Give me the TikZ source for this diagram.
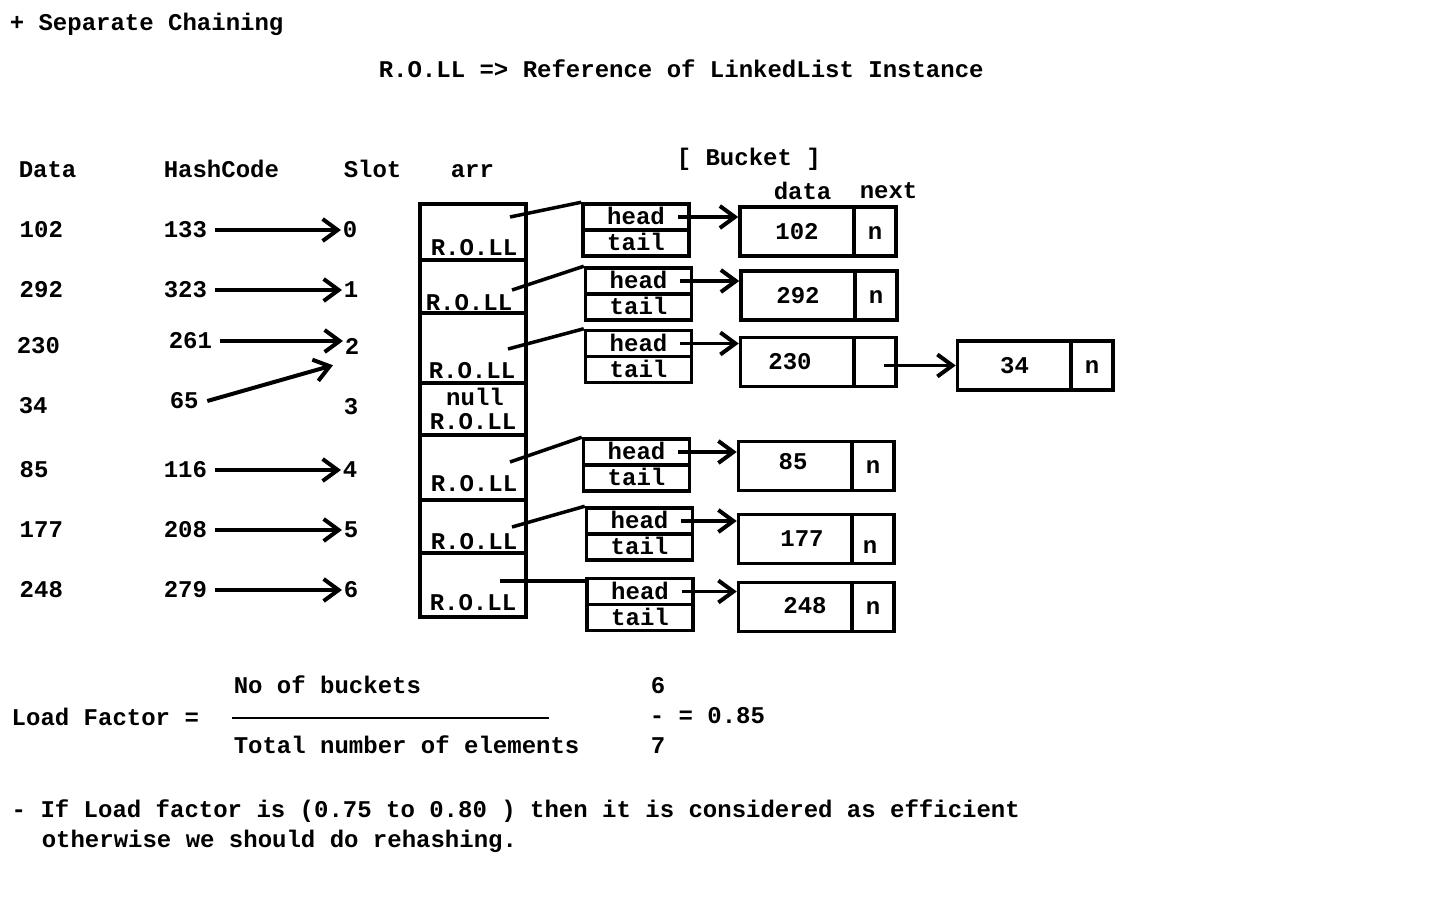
\documentclass[tikz,border=0pt]{standalone}
\usepackage{fontspec}
\setmainfont{Liberation Mono}
\usetikzlibrary{arrows.meta}

\begin{document}
\begin{tikzpicture}[x=1pt, y=-1pt, line width=3.5pt,
	font=\fontsize{24}{28}\selectfont\bfseries,
	>={Straight Barb[length=15pt,width=22pt,line width=4pt]},
	txt/.style={anchor=west, inner sep=0pt, text height=15pt, text depth=0pt},
	lbl/.style={inner sep=0pt, text height=15pt, text depth=0pt},
	cell/.style={draw, minimum width=106pt, inner sep=0pt},
	ptr/.style={draw, lbl, minimum width=106pt, minimum height=26pt},
	dat/.style={draw, lbl, minimum width=114pt, minimum height=49pt},
	nxt/.style={draw, lbl, minimum width=42pt, minimum height=49pt}]
\useasboundingbox (0,0) rectangle (1440,900);

\path (8,23) node[txt] (title) {+ Separate Chaining}
	  (377,70) node[txt] (roll) {R.O.LL => Reference of LinkedList Instance}
	  (17,170) node[txt] (hdata) {Data}
	  (162,170) node[txt] (hhash) {HashCode}
	  (342,170) node[txt] (hslot) {Slot}
	  (449,170) node[txt] (harr) {arr}
	  (675,158) node[txt] (hbucket) {[ Bucket ]}
	  (772,192) node[txt] (hval) {data}
	  (858,191) node[txt] (hnext) {next};

% data, hashcode, slot
\path (18,230) node[txt] (k0) {102}
	  (18,290) node[txt] (k1) {292}
	  (15,346) node[txt] (k2) {230}
	  (17,406) node[txt] (k3) {34}
	  (18,470) node[txt] (k4) {85}
	  (18,530) node[txt] (k5) {177}
	  (18,590) node[txt] (k6) {248}

	  (162,230) node[txt] (hc0) {133}
	  (162,290) node[txt] (hc1) {323}
	  (167,341) node[txt] (hc2) {261}
	  (168,401) node[txt] (hc3) {65}
	  (162,470) node[txt] (hc4) {116}
	  (162,530) node[txt] (hc5) {208}
	  (162,590) node[txt] (hc6) {279}

	  (341,230) node[txt] (s0) {0}
	  (342,290) node[txt] (s1) {1}
	  (343,347) node[txt] (s2) {2}
	  (342,407) node[txt] (s3) {3}
	  (341,470) node[txt] (s4) {4}
	  (342,530) node[txt] (s5) {5}
	  (342,590) node[txt] (s6) {6};

\draw[->, line width=4pt] ([xshift=6pt]hc0.east) -- (hc0.east -| s0.west);
\draw[->, line width=4pt] ([xshift=6pt]hc1.east) -- (hc1.east -| s1.west);
\draw[->, line width=4pt] ([xshift=6pt]hc2.east) -- (hc2.east -| s2.west);
\draw[->, line width=4pt] ([xshift=7pt]hc3.east) -- ([xshift=-10pt,yshift=-9pt]s2.south west);
\draw[->, line width=4pt] ([xshift=6pt]hc4.east) -- (hc4.east -| s4.west);
\draw[->, line width=4pt] ([xshift=6pt]hc5.east) -- (hc5.east -| s5.west);
\draw[->, line width=4pt] ([xshift=6pt]hc6.east) -- (hc6.east -| s6.west);

% arr
\path (473,232) node[cell, minimum height=56pt] (a0) {}
	  (473,286.5) node[cell, minimum height=53pt] (a1) {}
	  (473,348) node[cell, minimum height=70pt] (a2) {}
	  (473,409) node[cell, minimum height=52pt] (a3) {}
	  (473,467.5) node[cell, minimum height=65pt] (a4) {}
	  (473,526.5) node[cell, minimum height=53pt] (a5) {}
	  (473,585) node[cell, minimum height=64pt] (a6) {}

	  (474,248) node[lbl] (r0) {R.O.LL}
	  (469,303) node[lbl] (r1) {R.O.LL}
	  (472,371) node[lbl] (r2) {R.O.LL}
	  (475,398) node[lbl] (z3) {null}
	  (473,422) node[lbl] (r3) {R.O.LL}
	  (474,484) node[lbl] (r4) {R.O.LL}
	  (474,542) node[lbl] (r5) {R.O.LL}
	  (473,603) node[lbl] (r6) {R.O.LL};

% head / tail
\path (636,217) node[ptr] (h0) {head}
	  (636,243) node[ptr] (t0) {tail}
	  (638.5,281) node[ptr] (h1) {head}
	  (638.5,307) node[ptr] (t1) {tail}
	  (638.5,343.5) node[ptr] (h2) {head}
	  (638.5,369.5) node[ptr] (t2) {tail}
	  (636.5,452) node[ptr] (h4) {head}
	  (636.5,478) node[ptr] (t4) {tail}
	  (639.5,521) node[ptr] (h5) {head}
	  (639.5,547) node[ptr] (t5) {tail}
	  (640,591.5) node[ptr] (h6) {head}
	  (640,617.5) node[ptr] (t6) {tail};

\coordinate (p0) at (510,217);
\coordinate (p1) at (512,290);
\coordinate (p2) at (508,349);
\coordinate (p4) at (510,462);
\coordinate (p5) at (512,527);
\coordinate (p6) at (500,581);

\draw (p0) -- (h0.north west);
\draw (p1) -- (h1.north west);
\draw (p2) -- (h2.north west);
\draw (p4) -- (h4.north west);
\draw (p5) -- (h5.north west);
\draw (p6) -- (p6 -| h6.west);

% bucket nodes
\path (797,231.5) node[dat] (d0) {102}
	  (875,231.5) node[nxt] (n0) {n}
	  (798,295.5) node[dat] (d1) {292}
	  (876,295.5) node[nxt] (n1) {n}
	  (797.5,362) node[dat] (d2) {}
	  (875,362) node[nxt] (n2) {}
	  (1014.5,365.5) node[dat] (m0) {34}
	  (1092,365.5) node[nxt] (mn0) {n}
	  (795.5,466) node[dat] (d4) {}
	  (873,466) node[nxt] (n4) {n}
	  (795.5,539) node[dat] (d5) {}
	  (873,539) node[nxt] (n5) {}
	  (795.5,607) node[dat] (d6) {}
	  (873,607) node[nxt] (n6) {n}

	  (790,362) node[lbl] (v2) {230}
	  (793,462) node[lbl] (v4) {85}
	  (802,539) node[lbl] (v5) {177}
	  (870,546) node[lbl] (x5) {n}
	  (805,606) node[lbl] (v6) {248};

\draw[->] ([xshift=-13pt]h0.east) -- (h0.east -| d0.west);
\draw[->] ([xshift=-13pt]h1.east) -- (h1.east -| d1.west);
\draw[->] ([xshift=-13pt]h2.east) -- (h2.east -| d2.west);
\draw[->] ([xshift=-13pt]h4.east) -- (h4.east -| d4.west);
\draw[->] ([xshift=-13pt]h5.east) -- (h5.east -| d5.west);
\draw[->] ([xshift=-13pt]h6.east) -- (h6.east -| d6.west);
\draw[->] ([xshift=9pt]n2.center |- m0.west) -- (m0.west);

% load factor
\path (10,718) node[txt] (lf) {Load Factor =}
	  (232,686) node[txt] (num) {No of buckets}
	  (232,746) node[txt] (den) {Total number of elements}
	  (649,686) node[txt] (six) {6}
	  (648,716) node[txt] (res) {- = 0.85}
	  (649,746) node[txt] (seven) {7}
	  (10,810) node[txt] (note1) {- If Load factor is (0.75 to 0.80 ) then it is considered as efficient}
	  (40,840) node[txt] (note2) {otherwise we should do rehashing.};
\draw[line width=2pt] (num.west |- lf.west) -- ++(317,0);

\end{tikzpicture}
\end{document}
